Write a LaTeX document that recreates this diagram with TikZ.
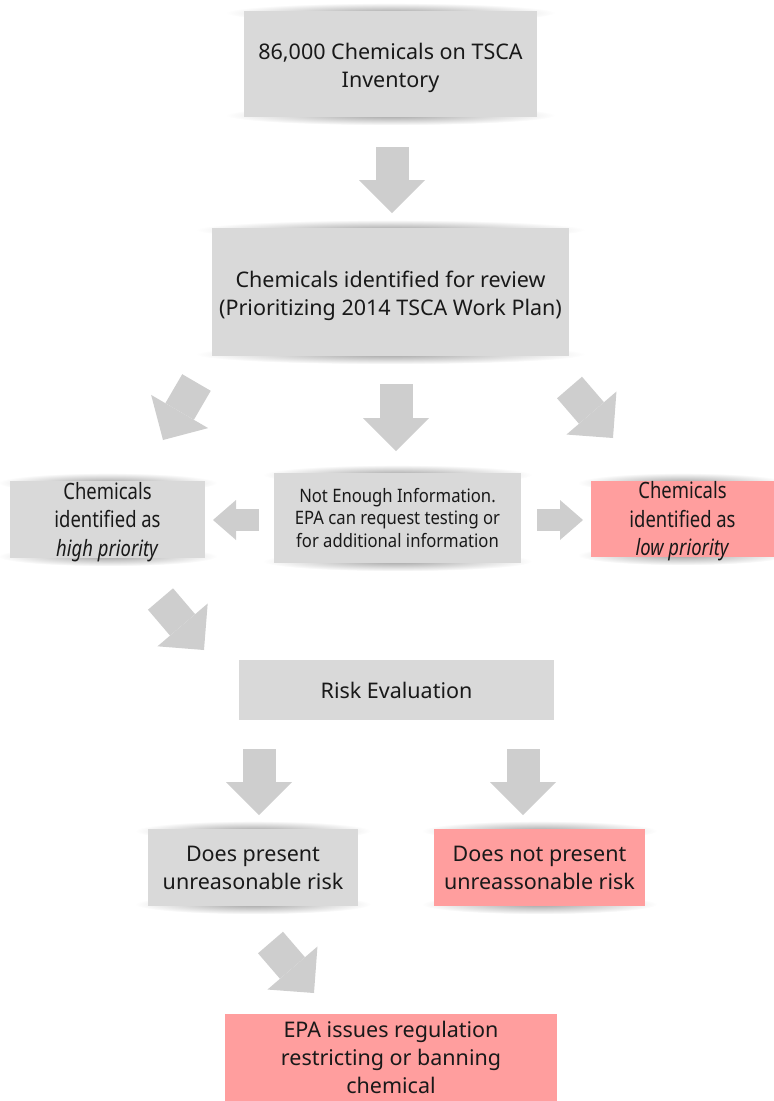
\documentclass[tikz,border=0pt]{standalone}
\usepackage{fontspec}
\setmainfont{Noto Sans}
\newfontfamily\condfont[FakeStretch=0.82]{Noto Sans}
\newfontfamily\midfont[FakeStretch=0.9]{Noto Sans}
\usetikzlibrary{arrows.meta,backgrounds}
\definecolor{boxgray}{RGB}{217,217,217}
\definecolor{arrgray}{RGB}{206,206,206}
\definecolor{boxpink}{RGB}{255,158,158}
\definecolor{txt}{RGB}{25,25,25}
\tikzset{
  box/.style={fill=boxgray, inner sep=0pt, align=center, text=txt,
    font=\fontsize{21.5}{28}\selectfont},
  pinkbox/.style={box, fill=boxpink},
  boxtext/.style={inner sep=0pt, align=center, text=txt,
    font=\fontsize{21.5}{28}\selectfont},
  condtext/.style={boxtext, font=\condfont\fontsize{22.5}{28.5}\selectfont},
  bigarrow/.style={draw=arrgray, line width=33pt,
    -{Triangle[width=66pt,length=33pt,line width=0pt]}},
  smallarrow/.style={draw=arrgray, line width=22pt,
    -{Triangle[width=40pt,length=23pt,line width=0pt]}},
  boxshadow/.style={inner color=black!36, outer color=white}
}
\begin{document}
\begin{tikzpicture}[x=1pt,y=-1pt]
\useasboundingbox (0,0) rectangle (774,1101);
% boxes
\node[box, minimum width=293pt, minimum height=106pt] (b1) at (390.5,64) {};
\node[boxtext] (b1t) at ([yshift=-3.5pt]b1.center)
  {86,000 Chemicals on TSCA\\Inventory};
\node[box, minimum width=357pt, minimum height=128pt] (b2) at (390.5,292) {};
\node[boxtext] (b2t) at ([yshift=-4pt]b2.center)
  {Chemicals identified for review\\(Prioritizing 2014 TSCA Work Plan)};
\node[box, minimum width=195pt, minimum height=77pt] (hi) at (107.5,519.5) {};
\node[condtext] (hit) at ([yshift=-2.5pt]hi.center)
  {Chemicals\\identified as\\\textit{high priority}};
\node[box, font=\midfont\fontsize{18.5}{22.5}\selectfont,
  minimum width=247pt, minimum height=90pt] (mid) at (397.5,518)
  {Not Enough Information.\\EPA can request testing or\\for additional information};
\node[pinkbox, minimum width=183pt, minimum height=76pt] (lo) at (682.5,519) {};
\node[condtext] (lot) at ([yshift=-2.5pt]lo.center)
  {Chemicals\\identified as\\\textit{low priority}};
\node[box, minimum width=315pt, minimum height=60pt] (risk) at (396.5,690)
  {Risk Evaluation};
\node[box, minimum width=210pt, minimum height=77pt] (yes) at (253,867.5)
  {Does present\\unreasonable risk};
\node[pinkbox, minimum width=211pt, minimum height=77pt] (no) at (539.5,867.5)
  {Does not present\\unreassonable risk};
\node[pinkbox, minimum width=332pt, minimum height=87pt] (epa) at (391,1057.5)
  {EPA issues regulation\\restricting or banning\\chemical};
% shadows
\begin{scope}[on background layer]
  \foreach \n/\r in {b1/165, b2/195, hi/110, mid/135, lo/105, yes/118, no/118}{
    \shade[boxshadow] ([yshift=-2pt]\n.north) ellipse [x radius=\r pt, y radius=10pt];
    \shade[boxshadow] ([yshift=2pt]\n.south) ellipse [x radius=\r pt, y radius=10pt];
  }
\end{scope}
% arrow end points
\coordinate (a1s) at (392,147);   \coordinate (a1e) at (392,213);
\coordinate (a2s) at (196.5,382.5); \coordinate (a2e) at (163,440);
\coordinate (a3s) at (396,384);   \coordinate (a3e) at (396,451);
\coordinate (a4s) at (569.5,387.5); \coordinate (a4e) at (613,438);
\coordinate (a5s) at (259,520);   \coordinate (a5e) at (213,520);
\coordinate (a6s) at (537,520);   \coordinate (a6e) at (583,520);
\coordinate (a7s) at (160.5,599); \coordinate (a7e) at (204,650);
\coordinate (a8s) at (259,749);   \coordinate (a8e) at (259,815);
\coordinate (a9s) at (523,749);   \coordinate (a9e) at (523,815);
\coordinate (a10s) at (270.5,942.5); \coordinate (a10e) at (314,993);
% arrows
\draw[bigarrow] (a1s) -- (a1e);
\draw[bigarrow] (a2s) -- (a2e);
\draw[bigarrow] (a3s) -- (a3e);
\draw[bigarrow] (a4s) -- (a4e);
\draw[smallarrow] (a5s) -- (a5e);
\draw[smallarrow] (a6s) -- (a6e);
\draw[bigarrow] (a7s) -- (a7e);
\draw[bigarrow] (a8s) -- (a8e);
\draw[bigarrow] (a9s) -- (a9e);
\draw[bigarrow] (a10s) -- (a10e);
\end{tikzpicture}
\end{document}
